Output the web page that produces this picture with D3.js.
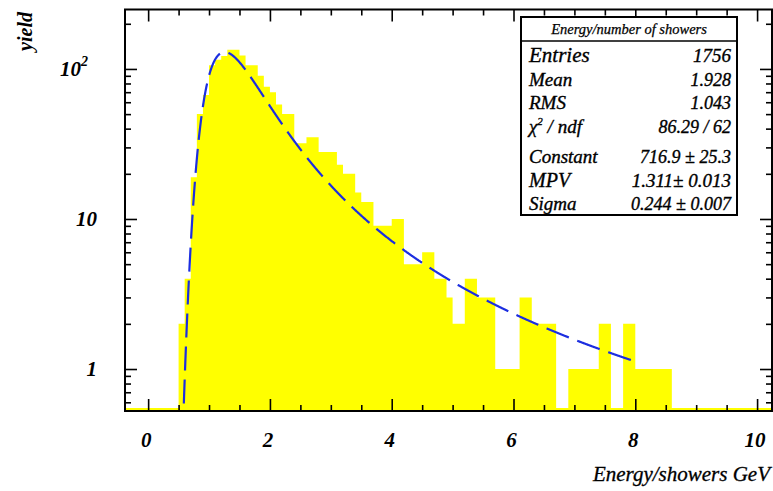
<!DOCTYPE html>
<html>
<head>
<meta charset="utf-8">
<script src="https://cdn.jsdelivr.net/npm/d3@7"></script>
<style>
  body { margin: 0; background: #fff; }
  svg { display: block; }
  text { font-family: "Liberation Serif", "DejaVu Serif", serif; }
</style>
</head>
<body>
<svg id="chart" width="773" height="491"></svg>
<script>
// Histogram: energy per shower, 0.1 GeV bins starting at 0.5 GeV
const binStart = 0.5;
const binWidth = 0.1;
const counts = [
  2, 4, 19, 50, 67, 106, 115, 122, 134, 134,      // 0.5 - 1.4
  123, 106, 106, 90, 76, 70, 58, 50, 50, 32,      // 1.5 - 2.4
  32, 35, 35, 28, 28, 28, 23, 20, 20, 15,         // 2.5 - 3.4
  13, 13, 9, 9, 9, 10, 10, 5, 5, 5,               // 3.5 - 4.4
  6, 6, 4, 4, 3, 2, 2, 4, 4, 3,                   // 4.5 - 5.4
  3, 3, 1, 1, 1, 1, 3, 3, 2, 2,                   // 5.5 - 6.4
  2, 2, 0, 0, 1, 1, 1, 1, 1, 2,                   // 6.5 - 7.4
  2, 0, 0, 2, 2, 1, 1, 1, 1, 1,                   // 7.5 - 8.4
  1                                               // 8.5
];

// Axis ticks and labels
const xLabelValues = [0, 2, 4, 6, 8, 10];
const xMinorStep = 0.5;
const yDecades = [1, 10, 100];
const yDecadeLabels = [["1", ""], ["10", ""], ["10", "2"]];

// Landau fit results
const fitConstant = 716.9;
const fitMPV = 1.311;
const fitSigma = 0.244;
const fitUpper = 8.0;

// Statistics box
const statTitle = "Energy/number of showers";
const statNames = ["Entries", "Mean", "RMS", "χ² / ndf", "Constant", "MPV", "Sigma"];
const statValues = ["1756", "1.928", "1.043", "86.29 / 62", "716.9 ± 25.3", "1.311± 0.013", "0.244 ± 0.007"];

const xTitle = "Energy/showers GeV";
const yTitle = "yield";

// ---------------------------------------------------------------
const frame = { left: 125, right: 772, top: 9.5, bottom: 411 };
const svg = d3.select("#chart");

const x = d3.scaleLinear().domain([-0.38, 10.245]).range([frame.left, frame.right]);
const y = d3.scaleLog().domain([0.525, 249]).range([frame.bottom, frame.top]);

svg.append("defs").append("clipPath").attr("id", "frameClip")
  .append("rect")
  .attr("x", frame.left).attr("y", frame.top)
  .attr("width", frame.right - frame.left).attr("height", frame.bottom - frame.top);

const plot = svg.append("g").attr("clip-path", "url(#frameClip)");

// Empty bins are drawn as a thin band sitting on the frame bottom
const emptyLevel = y.invert(frame.bottom - 3);
const bins = counts.map((c, i) => ({
  x0: binStart + i * binWidth,
  x1: binStart + (i + 1) * binWidth,
  c
}));
const [xMin, xMax] = x.domain();
const stepPts = [[xMin, emptyLevel], [binStart, emptyLevel]];
bins.forEach(b => {
  const v = b.c > 0 ? b.c : emptyLevel;
  stepPts.push([b.x0, v], [b.x1, v]);
});
stepPts.push([bins[bins.length - 1].x1, emptyLevel], [xMax, emptyLevel]);

plot.append("path")
  .datum(stepPts)
  .attr("d", d3.area().x(d => x(d[0])).y0(frame.bottom).y1(d => y(d[1])))
  .attr("fill", "#ffff00")
  .attr("stroke", "none");

// Landau density (CERNLIB DENLAN), as used by ROOT's TMath::Landau
function denlan(v) {
  const p1 = [0.4259894875, -0.1249762550, 0.03984243700, -0.006298287635, 0.001511162253];
  const q1 = [1.0, -0.3388260629, 0.09594393323, -0.01608042283, 0.003778942063];
  const p2 = [0.1788541609, 0.1173957403, 0.01488850518, -0.001394989411, 0.0001283617211];
  const q2 = [1.0, 0.7428795082, 0.3153932961, 0.06694219548, 0.008790609714];
  const p3 = [0.1788544503, 0.09359161662, 0.006325387654, 0.00006611667319, -0.000002031049101];
  const q3 = [1.0, 0.6097809921, 0.2560616665, 0.04746722384, 0.006957301675];
  const p4 = [0.9874054407, 118.6723273, 849.2794360, -743.7792444, 427.0262186];
  const q4 = [1.0, 106.8615961, 337.6496214, 2016.712389, 1597.063511];
  const p5 = [1.003675074, 167.5702434, 4789.711289, 21217.86767, -22324.94910];
  const q5 = [1.0, 156.9424537, 3745.310488, 9834.698876, 66924.28357];
  const a1 = [0.04166666667, -0.01996527778, 0.02709538966];
  const poly = (c, t) => c[0] + (c[1] + (c[2] + (c[3] + c[4] * t) * t) * t) * t;
  let u;
  if (v < -5.5) {
    u = Math.exp(v + 1.0);
    if (u < 1e-10) return 0;
    return 0.3989422803 * (Math.exp(-1 / u) / Math.sqrt(u)) * (1 + (a1[0] + (a1[1] + a1[2] * u) * u) * u);
  } else if (v < -1) {
    u = Math.exp(-v - 1);
    return Math.exp(-u) * Math.sqrt(u) * poly(p1, v) / poly(q1, v);
  } else if (v < 1) {
    return poly(p2, v) / poly(q2, v);
  } else if (v < 5) {
    return poly(p3, v) / poly(q3, v);
  } else if (v < 12) {
    u = 1 / v;
    return u * u * poly(p4, u) / poly(q4, u);
  } else {
    u = 1 / v;
    return u * u * poly(p5, u) / poly(q5, u);
  }
}
const fitValue = e => fitConstant * denlan((e - fitMPV) / fitSigma);

// Fit curve over the fit range; values under the frame sit on its bottom
const curveXs = d3.range(xMin, fitUpper + 1e-9, 0.005);
const yLo = y.domain()[0];
plot.append("path")
  .datum(curveXs)
  .attr("d", d3.line().x(e => x(e)).y(e => y(Math.max(fitValue(e), yLo))))
  .attr("fill", "none")
  .attr("stroke", "#1c2ee0")
  .attr("stroke-width", 2.2)
  .attr("stroke-dasharray", "24 9");

// Tick marks on all four sides, pointing inwards
const xMinor = d3.range(0, xMax + 1e-9, xMinorStep).filter(v => !xLabelValues.includes(v));
const yMinor = [];
[0.1, 1, 10, 100].forEach(d => {
  for (let k = 2; k <= 9; k++) {
    const v = d * k;
    if (v >= y.domain()[0] && v <= y.domain()[1]) yMinor.push(v);
  }
});

const axes = svg.append("g").attr("class", "axes");
function tickGroup(axis, transform) {
  const g = axes.append("g").attr("transform", transform).call(axis);
  g.select(".domain").remove();
  g.selectAll("text").remove();
  g.selectAll("line").attr("stroke", "#000").attr("stroke-width", 1.6);
  return g;
}
const majorLen = 12, minorLen = 6;
tickGroup(d3.axisBottom(x).tickValues(xLabelValues).tickSize(-majorLen), `translate(0,${frame.bottom})`);
tickGroup(d3.axisBottom(x).tickValues(xMinor).tickSize(-minorLen), `translate(0,${frame.bottom})`);
tickGroup(d3.axisTop(x).tickValues(xLabelValues).tickSize(-majorLen), `translate(0,${frame.top})`);
tickGroup(d3.axisTop(x).tickValues(xMinor).tickSize(-minorLen), `translate(0,${frame.top})`);
tickGroup(d3.axisLeft(y).tickValues(yDecades).tickSize(-majorLen), `translate(${frame.left},0)`);
tickGroup(d3.axisLeft(y).tickValues(yMinor).tickSize(-minorLen), `translate(${frame.left},0)`);
tickGroup(d3.axisRight(y).tickValues(yDecades).tickSize(-majorLen), `translate(${frame.right},0)`);
tickGroup(d3.axisRight(y).tickValues(yMinor).tickSize(-minorLen), `translate(${frame.right},0)`);

// Frame
svg.append("rect")
  .attr("x", frame.left).attr("y", frame.top)
  .attr("width", frame.right - frame.left).attr("height", frame.bottom - frame.top)
  .attr("fill", "none").attr("stroke", "#000").attr("stroke-width", 2);

// Tick labels
const labelFont = "bold italic 21px 'Liberation Serif', serif";
svg.append("g").selectAll("text").data(xLabelValues).join("text")
  .attr("x", d => x(d) - 2)
  .attr("y", 447)
  .attr("text-anchor", "middle")
  .style("font", labelFont)
  .text(d => d);

const yl = svg.append("g").selectAll("text").data(yDecades).join("text")
  .attr("x", (d, i) => yDecadeLabels[i][1] ? 88 : 97)
  .attr("y", d => y(d) + 7)
  .attr("text-anchor", "end")
  .style("font", labelFont);
yl.append("tspan").text((d, i) => yDecadeLabels[i][0]);
yl.append("tspan")
  .attr("dy", -10)
  .style("font-size", "14px")
  .text((d, i) => yDecadeLabels[i][1]);

// Axis titles
svg.append("text")
  .attr("transform", "translate(32,12) rotate(-90)")
  .attr("text-anchor", "end")
  .style("font", "bold italic 20px 'Liberation Serif', serif")
  .text(yTitle);
svg.append("text")
  .attr("x", 770).attr("y", 481)
  .attr("text-anchor", "end")
  .attr("stroke", "#000").attr("stroke-width", 0.3)
  .style("font", "italic 21px 'Liberation Serif', serif")
  .text(xTitle);

// Statistics box
const box = { left: 521, right: 737, top: 17, bottom: 215, titleLine: 41 };
const sb = svg.append("g");
sb.append("rect")
  .attr("x", box.left).attr("y", box.top)
  .attr("width", box.right - box.left).attr("height", box.bottom - box.top)
  .attr("fill", "#fff").attr("stroke", "#000").attr("stroke-width", 2);
sb.append("line")
  .attr("x1", box.left).attr("x2", box.right)
  .attr("y1", box.titleLine).attr("y2", box.titleLine)
  .attr("stroke", "#000").attr("stroke-width", 1.5);
sb.append("text")
  .attr("x", (box.left + box.right) / 2).attr("y", 34)
  .attr("text-anchor", "middle")
  .attr("stroke", "#000").attr("stroke-width", 0.25)
  .style("font", "italic 14.5px 'Liberation Serif', serif")
  .text(statTitle);
const rowY = [62, 86, 109, 133, 163, 187, 210];
const nameSize = [21, 19, 19, 19, 19, 20, 19];
const valueSize = [19, 18, 18, 18, 18, 19, 18];
statNames.forEach((name, i) => {
  const nameText = sb.append("text")
    .attr("x", box.left + 8).attr("y", rowY[i])
    .attr("stroke", "#000").attr("stroke-width", 0.35)
    .style("font", `italic ${nameSize[i]}px 'Liberation Serif', serif`);
  if (name.startsWith("χ")) {
    nameText.append("tspan").text("χ");
    nameText.append("tspan").attr("dy", -8).style("font-size", "11px").text("2");
    nameText.append("tspan").attr("dy", 8).text(" / ndf");
  } else {
    nameText.text(name);
  }
  sb.append("text")
    .attr("x", box.right - 6).attr("y", rowY[i])
    .attr("text-anchor", "end")
    .attr("stroke", "#000").attr("stroke-width", 0.35)
    .style("font", `italic ${valueSize[i]}px 'Liberation Serif', serif`)
    .text(statValues[i]);
});
</script>
</body>
</html>
